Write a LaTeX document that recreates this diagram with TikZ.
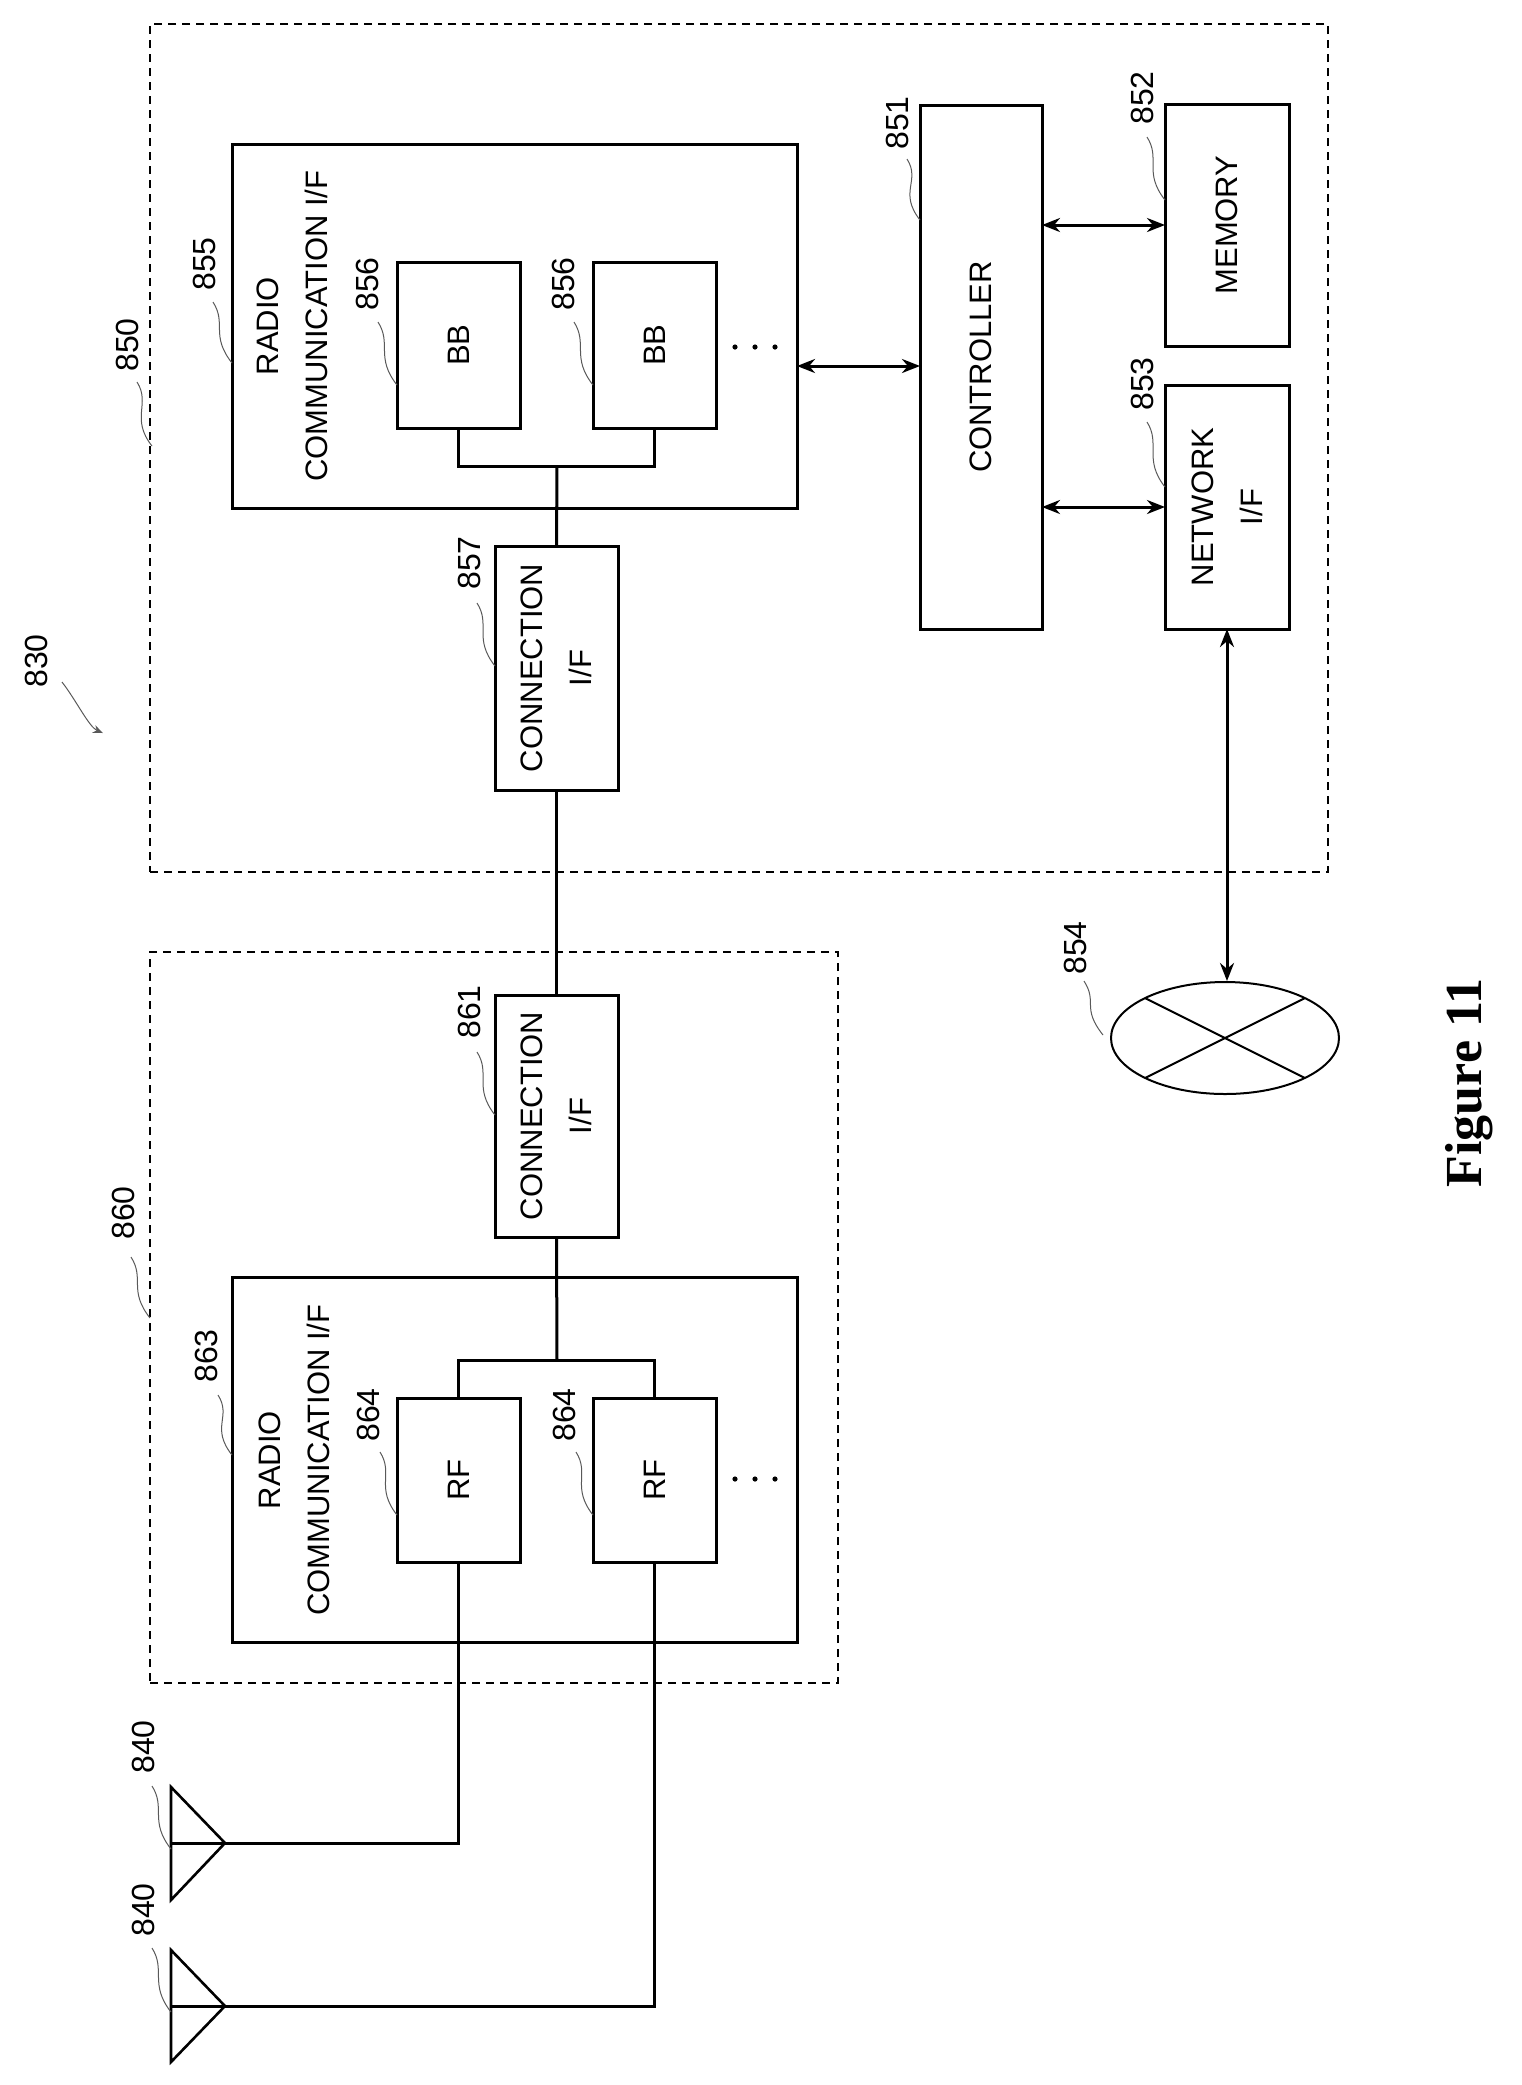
\documentclass[tikz,border=0pt]{standalone}
\usepackage{fontspec}
\setmainfont{Liberation Sans}
\newfontfamily\figfont{Liberation Serif}
\usetikzlibrary{arrows.meta,shapes.geometric,calc}
\newcommand\mkbox[5]{\node[box,minimum width={(#4-#2)*0.5pt},minimum height={(#5-#3)*0.5pt}] (#1) at ({(#2+#4)/2},{(#3+#5)/2}) {};}
\begin{document}
\begin{tikzpicture}[x=0.5pt,y=-0.5pt,
  box/.style={draw,line width=1.5pt,inner sep=0pt,outer sep=0pt,rectangle},
  dbox/.style={draw,line width=0.8pt,dash pattern=on 4pt off 3pt,inner sep=0pt,outer sep=0pt,rectangle},
  txt/.style={rotate=90,font=\fontsize{15.5}{24.5}\selectfont,align=center,inner sep=0pt},
  num/.style={rotate=90,font=\fontsize{16}{18}\selectfont,inner sep=0pt},
  wire/.style={line width=1.5pt},
  lead/.style={line width=0.5pt,gray!70!black},
  dbl/.style={line width=1.5pt,{Stealth[length=9pt,width=7pt]}-{Stealth[length=9pt,width=7pt]}}]
\useasboundingbox (0,0) rectangle (1522,2085);
% outer dashed boxes
\node[dbox,minimum width={1178*0.5pt},minimum height={848*0.5pt}] (b850) at (739,448) {};
\node[dbox,minimum width={688*0.5pt},minimum height={731*0.5pt}] (b860) at (494,1317.5) {};
% 850 contents
\mkbox{rc855}{232}{144}{797}{508}
\node[txt] (t855) at (292,326) {RADIO\\COMMUNICATION I/F};
\mkbox{bb1}{397}{262}{520}{428}
\mkbox{bb2}{593}{262}{716}{428}
\node[txt] at (bb1) {BB};
\node[txt] at (bb2) {BB};
\fill (735,347) circle (2.6) (755,347) circle (2.6) (775,347) circle (2.6);
\mkbox{c857}{495}{546}{618}{790}
\node[txt] at (c857) {CONNECTION\\I/F};
\mkbox{ctrl}{920}{105}{1042}{629}
\node[txt] at (ctrl) {CONTROLLER};
\mkbox{mem}{1165}{104}{1289}{346}
\node[txt] at (mem) {MEMORY};
\mkbox{net}{1165}{385}{1289}{629}
\node[txt] at (net) {NETWORK\\I/F};
% 860 contents
\mkbox{c861}{495}{995}{618}{1237}
\node[txt] at (c861) {CONNECTION\\I/F};
\mkbox{rc863}{232}{1277}{797}{1642}
\node[txt] (t863) at (294,1460) {RADIO\\COMMUNICATION I/F};
\mkbox{rf1}{397}{1398}{520}{1562}
\mkbox{rf2}{593}{1398}{716}{1562}
\node[txt] at (rf1) {RF};
\node[txt] at (rf2) {RF};
\fill (735,1479) circle (2.6) (755,1479) circle (2.6) (775,1479) circle (2.6);
% network ellipse
\node[draw,ellipse,line width=1pt,minimum width={228*0.5pt},minimum height={112*0.5pt},inner sep=0pt] (ell) at (1225,1038) {};
\draw[line width=1pt] ($(ell.center)+(-80,-40)$) -- ($(ell.center)+(80,40)$);
\draw[line width=1pt] ($(ell.center)+(80,-40)$) -- ($(ell.center)+(-80,40)$);
% antennas
\coordinate (a1) at (225,1843);
\coordinate (a1b) at (171,1843);
\coordinate (a2) at (225,2006);
\coordinate (a2b) at (171,2006);
\draw[line width=1.3pt,line join=miter] (171,1787) -- (a1) -- (171,1900) -- cycle;
\draw[line width=1.3pt,line join=miter] (171,1950) -- (a2) -- (171,2062) -- cycle;
% wires
\coordinate (busT) at (557,466);
\coordinate (busB) at (557,1360);
\draw[wire] (bb1.south) |- (busT) -| (bb2.south);
\draw[wire] (busT) -- (c857.north);
\draw[wire] (c857.south) -- (c861.north);
\draw[wire] (c861.south) -- (busB);
\draw[wire] (rf1.north) |- (busB) -| (rf2.north);
\draw[wire] (rf1.south) |- (a1b);
\draw[wire] (rf2.south) |- (a2b);
% arrows
\coordinate (p1) at (797,366);
\draw[dbl] (p1) -- (p1 -| ctrl.west);
\draw[dbl] (mem.west -| ctrl.east) -- (mem.west);
\draw[dbl] (net.west -| ctrl.east) -- (net.west);
\draw[dbl] (net.south) -- (net.south |- ell.north);
% labels
\node[num] (l830) at (36,661) {830};
\node[num] (l850) at (127,345) {850};
\node[num] (l855) at (204,264) {855};
\node[num] (l856a) at (367,284) {856};
\node[num] (l856b) at (563,284) {856};
\node[num] (l857) at (469,563) {857};
\node[num] (l851) at (897,123) {851};
\node[num] (l852) at (1142,98) {852};
\node[num] (l853) at (1142,384) {853};
\node[num] (l854) at (1075,948) {854};
\node[num] (l860) at (123,1213) {860};
\node[num] (l861) at (469,1012) {861};
\node[num] (l863) at (206,1356) {863};
\node[num] (l864a) at (368,1415) {864};
\node[num] (l864b) at (564,1415) {864};
\node[num] (l840a) at (143,1747) {840};
\node[num] (l840b) at (143,1910) {840};
\node[rotate=90,font=\figfont\bfseries\fontsize{26}{30}\selectfont,inner sep=0pt] (fig) at (1469,1083) {Figure 11};
% leader squiggles
\foreach \s/\e in {{137,382}/{152,446},{213,302}/{232,363},{378,322}/{397,385},{574,322}/{593,385},{477,603}/{495,666},{907,159}/{920,220},{1147,137}/{1165,200},{1147,422}/{1165,487},{1084,981}/{1103,1035},{131,1257}/{150,1318},{218,1395}/{232,1455},{380,1452}/{397,1515},{576,1452}/{593,1515},{477,1052}/{495,1115},{152,1786}/{171,1849},{152,1948}/{171,2012}}
  \draw[lead] (\s) .. controls +(14,22) and +(-22,-28) .. (\e);
\draw[lead,-{Stealth[length=5pt,width=4pt]}] (62,682) .. controls +(14,18) and +(-14,-6) .. (103,733);
\end{tikzpicture}
\end{document}
